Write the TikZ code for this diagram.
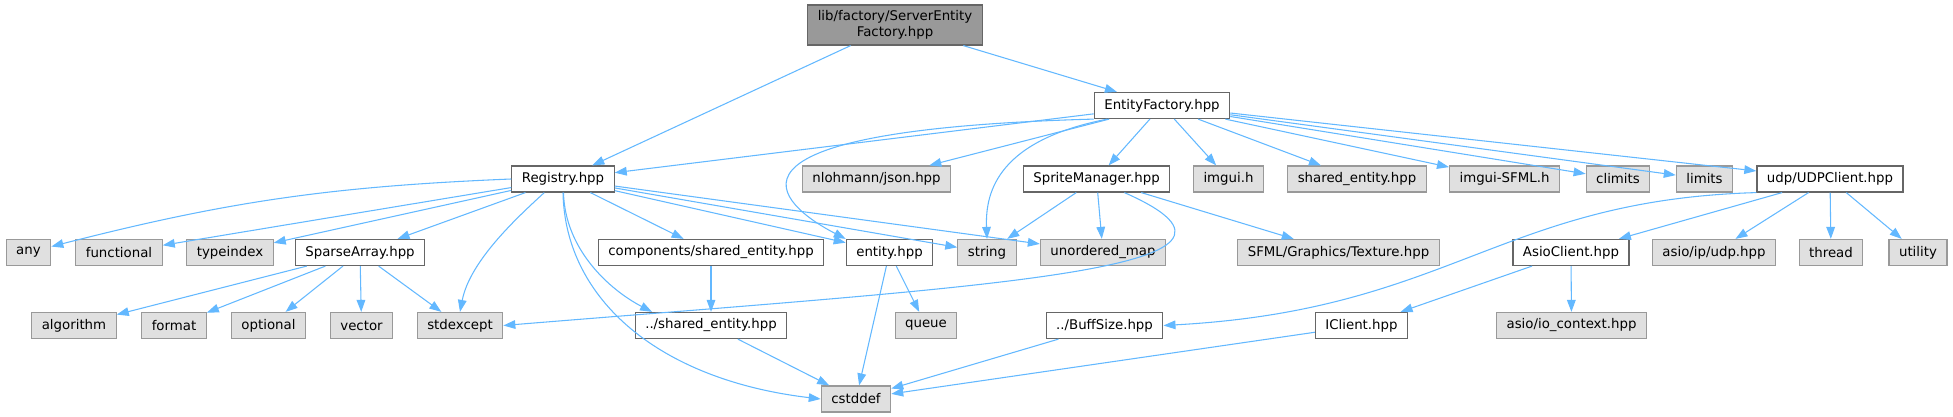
\documentclass[tikz,border=0pt]{standalone}
\usepackage{fontspec}
\setmainfont{DejaVu Sans}
\usetikzlibrary{arrows.meta}
\definecolor{edgeblue}{HTML}{63B8FF}
\definecolor{extfill}{HTML}{E0E0E0}
\definecolor{extline}{HTML}{999999}
\definecolor{docline}{HTML}{666666}
\definecolor{rootfill}{HTML}{999999}
\tikzset{hdr/.style={draw=docline,fill=white,line width=0.9pt,inner xsep=7.5pt,inner ysep=0pt,minimum height=19.5pt,font=\fontsize{10}{12}\selectfont},syshdr/.style={hdr,draw=extline,fill=extfill},rootbox/.style={hdr,fill=rootfill,align=center,minimum height=30pt},dep/.style={-{Triangle[length=9pt,width=6.5pt]},draw=edgeblue,line width=0.8pt}}

\begin{document}
\begin{tikzpicture}[x=0.75pt,y=-0.75pt]
\useasboundingbox (0,0) rectangle (1953,417);
\node[rootbox] (root) at (895,25) {lib/factory/ServerEntity\\Factory.hpp};
\node[hdr] (ef) at (1162,105.5) {EntityFactory.hpp};
\node[hdr] (reg) at (563,179) {Registry.hpp};
\node[syshdr] (json) at (876.5,179) {nlohmann/json.hpp};
\node[hdr] (spr) at (1096.5,179) {SpriteManager.hpp};
\node[syshdr] (imgui) at (1228.5,179) {imgui.h};
\node[syshdr] (sent) at (1357,179) {shared\_entity.hpp};
\node[syshdr] (isfml) at (1504.5,179) {imgui-SFML.h};
\node[syshdr] (climits) at (1618,179) {climits};
\node[syshdr] (limits) at (1704.5,179) {limits};
\node[hdr] (udp) at (1830,179) {udp/UDPClient.hpp};
\node[syshdr] (any) at (28.5,252.5) {any};
\node[syshdr] (func) at (119,252.5) {functional};
\node[syshdr] (tidx) at (230,252.5) {typeindex};
\node[hdr] (sparse) at (360,252.5) {SparseArray.hpp};
\node[hdr] (comp) at (711,252.5) {components/shared\_entity.hpp};
\node[hdr] (entity) at (889.5,252.5) {entity.hpp};
\node[syshdr] (string) at (987,252.5) {string};
\node[syshdr] (umap) at (1103,252.5) {unordered\_map};
\node[syshdr] (sfml) at (1338.5,252.5) {SFML/Graphics/Texture.hpp};
\node[hdr] (asio) at (1571,252.5) {AsioClient.hpp};
\node[syshdr] (ipudp) at (1714,252.5) {asio/ip/udp.hpp};
\node[syshdr] (thread) at (1831,252.5) {thread};
\node[syshdr] (utility) at (1918,252.5) {utility};
\node[syshdr] (algo) at (74,325.5) {algorithm};
\node[syshdr] (format) at (174,325.5) {format};
\node[syshdr] (optional) at (268.5,325.5) {optional};
\node[syshdr] (vector) at (361.5,325.5) {vector};
\node[syshdr] (stdx) at (460,325.5) {stdexcept};
\node[hdr] (shent) at (711,325.5) {../shared\_entity.hpp};
\node[syshdr] (queue) at (926,325.5) {queue};
\node[hdr] (buff) at (1104.5,325.5) {../BuffSize.hpp};
\node[hdr] (iclient) at (1361.5,325.5) {IClient.hpp};
\node[syshdr] (ioctx) at (1571.5,325.5) {asio/io\_context.hpp};
\node[syshdr] (cstddef) at (856,399) {cstddef};
\draw[dep] (root)--(reg); \draw[dep] (root)--(ef);
\draw[dep] (ef)--(reg); \draw[dep] (ef)--(json); \draw[dep] (ef)--(spr); \draw[dep] (ef)--(imgui); \draw[dep] (ef)--(sent); \draw[dep] (ef)--(isfml); \draw[dep] (ef)--(climits); \draw[dep] (ef)--(limits); \draw[dep] (ef)--(udp);
\draw[dep] (ef.south west) .. controls (690,130) and (780,205) .. (entity.north west);
\draw[dep] (ef.194) .. controls (1000,140) and (985,190) .. (string.north);
\draw[dep] (reg.west) to[bend right=6] (any); \draw[dep] (reg)--(func); \draw[dep] (reg)--(tidx); \draw[dep] (reg)--(sparse); \draw[dep] (reg)--(comp); \draw[dep] (reg)--(entity); \draw[dep] (reg)--(string); \draw[dep] (reg)--(umap);
\draw[dep] (reg.216) .. controls (520,215) and (470,260) .. (stdx.north);
\draw[dep] (reg.-88) .. controls (565,250) and (610,290) .. (shent.167);
\draw[dep] (reg.south) .. controls (565,300) and (660,380) .. (cstddef.west);
\draw[dep] (sparse)--(algo); \draw[dep] (sparse)--(format); \draw[dep] (sparse)--(optional); \draw[dep] (sparse)--(vector); \draw[dep] (sparse)--(stdx);
\draw[dep] (comp)--(shent); \draw[dep] (entity)--(queue); \draw[dep] (entity)--(cstddef); \draw[dep] (shent)--(cstddef);
\draw[dep] (spr)--(string); \draw[dep] (spr)--(umap); \draw[dep] (spr)--(sfml);
\draw[dep] (spr.-26) .. controls (1300,270) and (1000,285) .. (stdx.east);
\draw[dep] (udp.south west) .. controls (1500,200) and (1450,310) .. (buff.east);
\draw[dep] (udp)--(asio); \draw[dep] (udp)--(ipudp); \draw[dep] (udp)--(thread); \draw[dep] (udp)--(utility);
\draw[dep] (asio)--(iclient); \draw[dep] (asio)--(ioctx);
\draw[dep] (buff)--(cstddef); \draw[dep] (iclient)--(cstddef);
\end{tikzpicture}
\end{document}
